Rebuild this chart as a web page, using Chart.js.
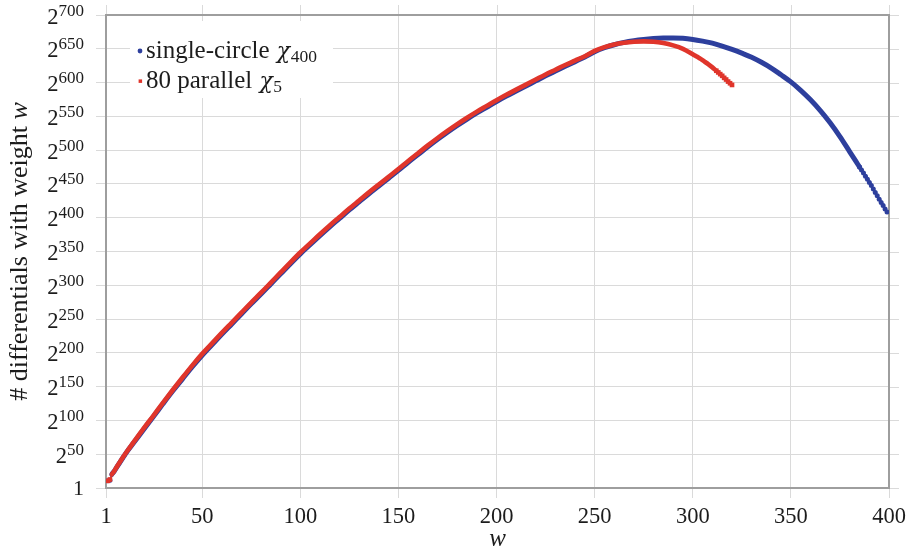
<!DOCTYPE html>
<html>
<head>
<meta charset="utf-8">
<script src="https://cdn.jsdelivr.net/npm/chart.js@4.4.1/dist/chart.umd.min.js"></script>
<style>
html,body{margin:0;padding:0;background:#fff;}
#wrap{width:915px;height:554px;}
</style>
</head>
<body>
<div id="wrap"><canvas id="c" width="915" height="554"></canvas></div>
<script>
// ---- tick values ----
const X_TICKS = [1, 50, 100, 150, 200, 250, 300, 350, 400];
const Y_EXPONENTS = [0, 50, 100, 150, 200, 250, 300, 350, 400, 450, 500, 550, 600, 650, 700];

// ---- series: weight w and log2(# differentials) ----
const blueW = [
  2, 3, 4, 5, 6, 7, 8, 9, 10, 12,
  15, 20, 25, 30, 35, 40, 45, 50, 55, 60,
  65, 70, 75, 80, 85, 90, 95, 100, 105, 110,
  115, 120, 125, 130, 135, 140, 145, 150, 155, 160,
  165, 170, 175, 180, 185, 190, 195, 200, 205, 210,
  215, 220, 225, 230, 235, 240, 245, 250, 255, 260,
  265, 270, 275, 280, 285, 290, 295, 300, 305, 310,
  315, 320, 325, 330, 335, 340, 345, 350, 355, 360,
  365, 370, 375, 380, 382, 384, 385, 386, 387, 388,
  389, 390, 391, 392, 393, 394, 395, 396, 397, 398,
  399
];
const blueLog2 = [
  10.6, 11.6, 20.3, 24, 28.5, 33, 37.5, 42, 46.5, 55,
  66.5, 86, 105, 124.5, 143.5, 161.5, 179.5, 196.5, 212, 227.5,
  242.5, 257.5, 272.5, 287, 302, 317, 332, 346.5, 360, 373.5,
  386.5, 399, 411.5, 423.5, 435.5, 447, 458.5, 470, 482, 493.5,
  505, 516, 526.5, 536.5, 546, 555, 563.5, 572, 580, 587.5,
  595, 602.5, 610, 617, 624, 631, 638, 645.5, 651.5, 656,
  659.5, 662, 663.8, 665.1, 665.9, 666.1, 665.5, 663.8, 661.3, 658.3,
  654, 649, 643.5, 637.5, 630, 621.5, 611.5, 601, 588.5, 574.5,
  558.5, 540.5, 520, 497.5, 488.5, 479.5, 475, 470.5, 466, 461.5,
  457, 452, 447.5, 442.5, 437.5, 432.5, 427.5, 422.5, 418, 413,
  408.5
];
const redW = [
  2, 3, 4, 5, 6, 7, 8, 9, 10, 12,
  15, 20, 25, 30, 35, 40, 45, 50, 55, 60,
  65, 70, 75, 80, 85, 90, 95, 100, 105, 110,
  115, 120, 125, 130, 135, 140, 145, 150, 155, 160,
  165, 170, 175, 180, 185, 190, 195, 200, 205, 210,
  215, 220, 225, 230, 235, 240, 245, 250, 255, 260,
  265, 270, 275, 280, 285, 290, 295, 300, 302, 304,
  306, 308, 310, 312, 313, 314, 315, 316, 317, 318,
  319, 320
];
const redLog2 = [
  10.6, 12.6, 20.3, 24, 29, 33.5, 38, 42.5, 47, 55.5,
  67.5, 87.5, 106.5, 126, 145, 163.5, 181.5, 198.5, 214, 229.5,
  244.5, 259.5, 274.5, 289, 304, 319, 334, 348.5, 362, 375.5,
  388.5, 401, 413.5, 425.5, 437.5, 449, 460.5, 472, 484, 495.5,
  507, 518, 528.5, 538.5, 548, 557, 565.5, 574, 582, 589.5,
  597, 604.5, 612, 619, 626, 632.5, 639, 647, 652.5, 656.5,
  659, 660.5, 661, 660.5, 658.5, 655, 650, 642, 638.5, 635,
  631, 627, 622.5, 617.5, 615, 612.5, 610, 607, 604.5, 601.5,
  599, 596.5
];

const BLUE = '#2d3f9d';
const RED = '#e0352b';
const GRID = '#dadada';
const FRAME = '#9e9e9e';
const TEXT = '#1c1c1c';
const FONT = '"Liberation Serif", "Times New Roman", serif';
const CHI_FONT = '"DejaVu Serif", "Liberation Serif", serif';

function richText(ctx, parts, x, y, align) {
  let total = 0;
  parts.forEach(p => { ctx.font = p.font; p.w = ctx.measureText(p.t).width + (p.gap || 0); total += p.w; });
  let cx = align === 'right' ? x - total : (align === 'center' ? x - total / 2 : x);
  ctx.textAlign = 'left';
  parts.forEach(p => { ctx.font = p.font; ctx.fillText(p.t, cx, y + (p.dy || 0)); cx += p.w; });
  return total;
}

const decor = {
  id: 'decor',
  beforeDatasetsDraw(chart) {
    const { ctx, chartArea: a, scales: { x, y } } = chart;
    ctx.save();
    ctx.strokeStyle = GRID;
    ctx.lineWidth = 1;
    X_TICKS.forEach(v => {
      const px = Math.round(x.getPixelForValue(v)) + 0.5;
      ctx.beginPath(); ctx.moveTo(px, a.top); ctx.lineTo(px, a.top - 10); ctx.stroke();
    });
    Y_EXPONENTS.forEach(v => {
      const py = Math.round(y.getPixelForValue(v)) + 0.5;
      ctx.beginPath(); ctx.moveTo(a.right, py); ctx.lineTo(a.right + 10, py); ctx.stroke();
    });
    ctx.strokeStyle = FRAME;
    ctx.lineWidth = 2;
    ctx.strokeRect(a.left, a.top, a.right - a.left, a.bottom - a.top);
    ctx.restore();
  },
  afterDraw(chart) {
    const { ctx, chartArea: a, scales: { y } } = chart;
    ctx.save();
    ctx.fillStyle = TEXT;
    ctx.textBaseline = 'alphabetic';
    // y tick labels 2^k
    Y_EXPONENTS.forEach(e => {
      const py = y.getPixelForValue(e);
      if (e === 0) {
        richText(ctx, [{ t: '1', font: `22px ${FONT}` }], 84, py + 7, 'right');
      } else {
        richText(ctx, [
          { t: '2', font: `22.5px ${FONT}`, dy: 8.5 },
          { t: String(e), font: `17px ${FONT}`, dy: 0.5 }
        ], 84, py, 'right');
      }
    });
    // y title
    ctx.save();
    ctx.translate(27, (a.top + a.bottom) / 2);
    ctx.rotate(-Math.PI / 2);
    richText(ctx, [
      { t: '# differentials with weight ', font: `26px ${FONT}` },
      { t: 'w', font: `italic 26px ${FONT}` }
    ], 0, 0, 'center');
    ctx.restore();
    // x title
    richText(ctx, [{ t: 'w', font: `italic 25px ${FONT}` }], (a.left + a.right) / 2, 546, 'center');
    // legend
    ctx.fillStyle = '#ffffff';
    ctx.fillRect(130, 21, 203, 77);
    ctx.fillStyle = BLUE;
    ctx.beginPath(); ctx.arc(140, 51, 2.4, 0, Math.PI * 2); ctx.fill();
    ctx.fillStyle = RED;
    ctx.fillRect(138.6, 79.4, 3.5, 3.5);
    ctx.fillStyle = TEXT;
    richText(ctx, [
      { t: 'single-circle ', font: `25px ${FONT}`, gap: 1 },
      { t: 'χ', font: `italic 22px ${CHI_FONT}`, gap: 0.5 },
      { t: '400', font: `17.5px ${FONT}`, dy: 4 }
    ], 146, 57.5, 'left');
    richText(ctx, [
      { t: '80 parallel ', font: `25px ${FONT}`, gap: 1 },
      { t: 'χ', font: `italic 22px ${CHI_FONT}`, gap: 0.5 },
      { t: '5', font: `17.5px ${FONT}`, dy: 4 }
    ], 146, 87.5, 'left');
    ctx.restore();
  }
};

const toPts = (ws, vs) => ws.map((w, i) => ({ x: w, y: vs[i] }));

new Chart(document.getElementById('c'), {
  type: 'scatter',
  data: {
    datasets: [
      {
        label: '80 parallel χ5',
        data: toPts(redW, redLog2),
        showLine: true,
        cubicInterpolationMode: 'monotone',
        borderColor: RED,
        borderWidth: 4.6,
        borderJoinStyle: 'round',
        borderCapStyle: 'round',
        pointStyle: 'rect',
        pointRadius: c => { const w = c.raw ? c.raw.x : 0; return (w < 4 || w >= 312) ? 3.3 : 0; },
        pointBackgroundColor: RED,
        pointBorderWidth: 0,
        segment: { borderWidth: c => (c.p0.parsed.x < 4 || c.p0.parsed.x >= 312) ? 1.5 : 4.6 },
        order: 1
      },
      {
        label: 'single-circle χ400',
        data: toPts(blueW, blueLog2),
        showLine: true,
        cubicInterpolationMode: 'monotone',
        borderColor: BLUE,
        borderWidth: 5,
        borderJoinStyle: 'round',
        borderCapStyle: 'round',
        pointStyle: 'circle',
        pointRadius: c => { const w = c.raw ? c.raw.x : 0; return (w < 4 || w >= 385) ? 2.5 : 0; },
        pointBackgroundColor: BLUE,
        pointBorderWidth: 0,
        segment: { borderWidth: c => (c.p0.parsed.x < 4 || c.p0.parsed.x >= 385) ? 1.5 : 5 },
        order: 2
      }
    ]
  },
  options: {
    responsive: false,
    animation: false,
    devicePixelRatio: 1,
    layout: { padding: { left: 0, right: 26, top: 15, bottom: 0 } },
    plugins: { legend: { display: false }, tooltip: { enabled: false } },
    scales: {
      x: {
        type: 'linear', min: 1, max: 400,
        afterBuildTicks: s => { s.ticks = X_TICKS.map(v => ({ value: v })); },
        afterFit: s => { s.height = 66; },
        grid: { color: GRID, lineWidth: 1, tickLength: 10, tickColor: GRID },
        border: { display: false },
        ticks: { font: { family: FONT, size: 22.5 }, color: TEXT, padding: 6, maxRotation: 0, autoSkip: false }
      },
      y: {
        type: 'linear', min: 0, max: 700,
        afterBuildTicks: s => { s.ticks = Y_EXPONENTS.map(v => ({ value: v })); },
        afterFit: s => { s.width = 106; },
        grid: { color: GRID, lineWidth: 1, tickLength: 10, tickColor: GRID },
        border: { display: false },
        ticks: { display: false }
      }
    }
  },
  plugins: [decor]
});
</script>
</body>
</html>
